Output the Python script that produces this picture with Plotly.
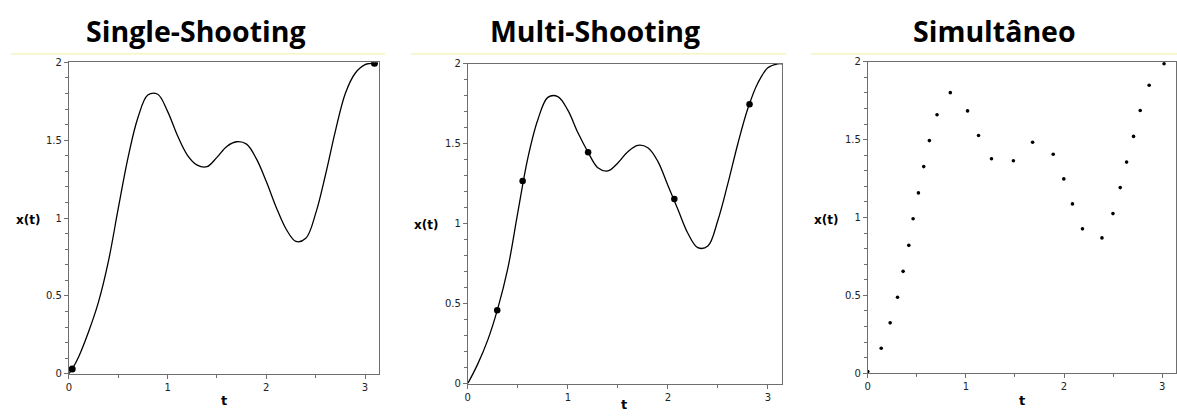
import plotly.graph_objects as go

# Single-shooting trajectory (sampled every 0.1) and its endpoint markers
ss_t = [0.0, 0.034, 0.1, 0.2, 0.3, 0.4, 0.5, 0.6, 0.7, 0.8, 0.9, 1.0, 1.1, 1.2, 1.3, 1.4,
        1.5, 1.6, 1.7, 1.8, 1.9, 2.0, 2.1, 2.2, 2.3, 2.4, 2.5, 2.6, 2.7, 2.8, 2.9, 3.0, 3.095]
ss_x = [0.0, 0.031, 0.11, 0.27, 0.46, 0.72, 1.06, 1.39, 1.646, 1.79, 1.795, 1.685, 1.53,
        1.405, 1.34, 1.33, 1.39, 1.46, 1.49, 1.475, 1.38, 1.235, 1.07, 0.93, 0.85, 0.87,
        1.03, 1.28, 1.56, 1.80, 1.93, 1.985, 1.994]
ss_nodes_t = [0.034, 3.095]
ss_nodes_x = [0.031, 1.994]

# Multi-shooting trajectory (sampled every 0.1) and shooting nodes
ms_t = [0.0, 0.1, 0.2, 0.3, 0.4, 0.5, 0.6, 0.7, 0.8, 0.9, 1.0, 1.1, 1.2, 1.3, 1.4, 1.5,
        1.6, 1.7, 1.8, 1.9, 2.0, 2.1, 2.2, 2.3, 2.4, 2.5, 2.6, 2.7, 2.8, 2.9, 3.0, 3.1, 3.14]
ms_x = [0.0, 0.123, 0.273, 0.47, 0.72, 1.07, 1.41, 1.65, 1.79, 1.795, 1.71, 1.57, 1.45,
        1.35, 1.33, 1.38, 1.45, 1.49, 1.475, 1.39, 1.24, 1.09, 0.94, 0.85, 0.86, 1.02,
        1.25, 1.50, 1.72, 1.88, 1.975, 2.0, 2.0]
ms_nodes_t = [0.294, 0.548, 1.203, 2.065, 2.817]
ms_nodes_x = [0.458, 1.267, 1.446, 1.155, 1.747]

# Simultaneous (collocation) discretisation points
sim_t = [0.0, 0.137, 0.228, 0.303, 0.360, 0.418, 0.462, 0.516, 0.570, 0.628, 0.706, 0.841,
         1.017, 1.129, 1.261, 1.484, 1.680, 1.890, 1.998, 2.086, 2.188, 2.387, 2.499,
         2.573, 2.638, 2.709, 2.777, 2.868, 3.020]
sim_x = [0.01, 0.160, 0.323, 0.4875, 0.654, 0.821, 0.992, 1.158, 1.327, 1.494, 1.660, 1.802,
         1.685, 1.527, 1.377, 1.365, 1.483, 1.406, 1.248, 1.0875, 0.927, 0.869, 1.025,
         1.192, 1.356, 1.521, 1.6875, 1.850, 1.9875]

titles = ["Single-Shooting", "Multi-Shooting", "Simultâneo"]
x_ticks = [0, 1, 2, 3]
y_ticks = [0, 0.5, 1, 1.5, 2]
y_tick_text = ["0", "0.5", "1", "1.5", "2"]

W, H = 1177, 418
px = lambda v: v / W
py = lambda v: 1 - v / H

# pixel boxes: (left, right, top, bottom)
boxes = [(66, 377, 58, 378.7), (466, 781, 59.5, 388.7), (867, 1176, 57.5, 378)]

fig = go.Figure()

line_style = dict(color="black", width=1.3, shape="spline", smoothing=1.0)
fig.add_trace(go.Scatter(x=ss_t, y=ss_x, mode="lines", line=line_style,
                         xaxis="x", yaxis="y", showlegend=False))
fig.add_trace(go.Scatter(x=ss_nodes_t, y=ss_nodes_x, mode="markers",
                         marker=dict(color="black", size=7), xaxis="x", yaxis="y", showlegend=False))
fig.add_trace(go.Scatter(x=ms_t, y=ms_x, mode="lines", line=line_style,
                         xaxis="x2", yaxis="y2", showlegend=False))
fig.add_trace(go.Scatter(x=ms_nodes_t, y=ms_nodes_x, mode="markers",
                         marker=dict(color="black", size=6.5), xaxis="x2", yaxis="y2", showlegend=False))
fig.add_trace(go.Scatter(x=sim_t, y=sim_x, mode="markers",
                         marker=dict(color="black", size=3.6), xaxis="x3", yaxis="y3", showlegend=False))

axis_common = dict(showline=True, linecolor="#6e6e6e", linewidth=1, mirror=True,
                   showgrid=False, zeroline=False, ticks="outside", ticklen=4,
                   tickcolor="#6e6e6e", tickfont=dict(family="DejaVu Sans", size=10, color="#222"))

layout = dict(width=W, height=H, margin=dict(l=0, r=0, t=0, b=0),
              paper_bgcolor="white", plot_bgcolor="white")

annotations = []
shapes = []
title_centers = [193, 594, 994]
xlabel_pos = [(222, 406), (623, 410), (1022, 406)]
ylabel_pos = [(25, 220), (424, 225), (825, 220)]
rule_spans = [(8, 383), (409, 785), (810, 1177)]

for i, (l, r, t, b) in enumerate(boxes):
    sfx = "" if i == 0 else str(i + 1)
    layout["xaxis" + sfx] = dict(domain=[px(l), px(r)], range=[0, 3.14159], anchor="y" + sfx,
                                 tickvals=x_ticks, ticktext=[str(v) for v in x_ticks],
                                 minor=dict(dtick=0.5, tick0=0, ticks="outside", ticklen=3,
                                            tickcolor="#6e6e6e"),
                                 **axis_common)
    layout["yaxis" + sfx] = dict(domain=[py(b), py(t)], range=[0, 2], anchor="x" + sfx,
                                 tickvals=y_ticks, ticktext=y_tick_text,
                                 minor=dict(dtick=0.1, tick0=0, ticks="outside", ticklen=3,
                                            tickcolor="#6e6e6e"),
                                 **axis_common)
    annotations.append(dict(text="<b>" + titles[i] + "</b>", x=px(title_centers[i]), y=py(26),
                            xref="paper", yref="paper", xanchor="center", yanchor="middle",
                            showarrow=False, font=dict(family="Open Sans", size=28.5, color="black")))
    annotations.append(dict(text="<b>t</b>", x=px(xlabel_pos[i][0]), y=py(xlabel_pos[i][1]),
                            xref="paper", yref="paper", xanchor="center", yanchor="middle",
                            showarrow=False, font=dict(family="DejaVu Sans", size=13, color="black")))
    annotations.append(dict(text="<b>x(t)</b>", x=px(ylabel_pos[i][0]), y=py(ylabel_pos[i][1]),
                            xref="paper", yref="paper", xanchor="center", yanchor="middle",
                            showarrow=False, font=dict(family="DejaVu Sans", size=12, color="black")))
    shapes.append(dict(type="line", xref="paper", yref="paper",
                       x0=px(rule_spans[i][0]), x1=px(rule_spans[i][1]), y0=py(49.3), y1=py(49.3),
                       line=dict(color="#f3eea0", width=1)))

layout["annotations"] = annotations
layout["shapes"] = shapes
fig.update_layout(**layout)

fig.write_html("out.html")
